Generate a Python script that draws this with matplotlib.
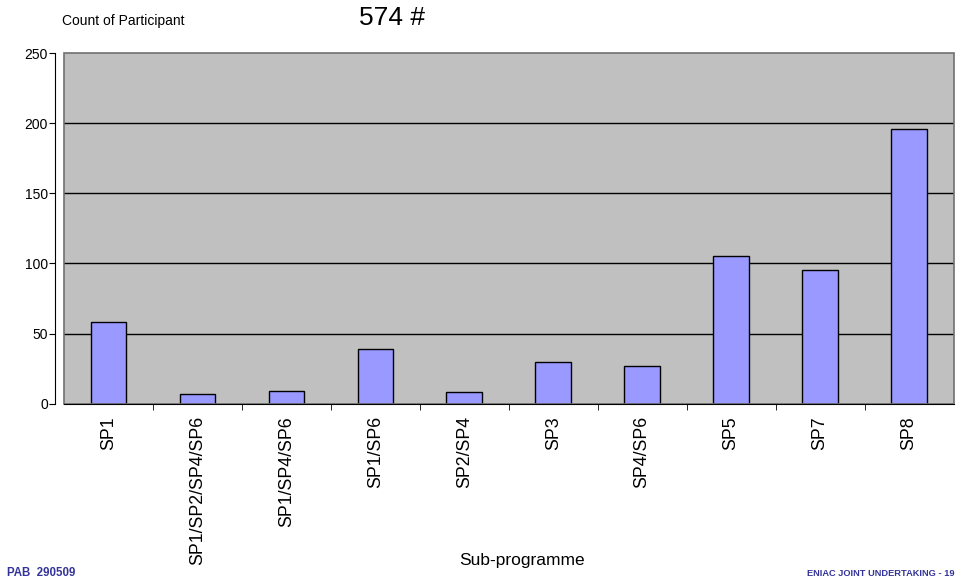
import matplotlib
matplotlib.use("Agg")
import matplotlib.pyplot as plt
from matplotlib.patches import Rectangle

# data
categories = ["SP1", "SP1/SP2/SP4/SP6", "SP1/SP4/SP6", "SP1/SP6", "SP2/SP4",
              "SP3", "SP4/SP6", "SP5", "SP7", "SP8"]
counts = [58, 7, 9, 39, 8, 30, 27, 105, 95, 196]
yticks = [0, 50, 100, 150, 200, 250]
total_label = "574 #"

plt.rcParams["font.family"] = ["Liberation Sans", "DejaVu Sans"]

fig = plt.figure(figsize=(9.62, 5.85), dpi=100)
ax = fig.add_axes([0.0665, 0.3099, 0.9247, 0.5995])

x = list(range(len(categories)))
ax.set_facecolor("#C0C0C0")
for y in yticks[1:-1]:
    ax.axhline(y, color="black", lw=1.0, zorder=1)
ax.bar(x, counts, width=0.4, color="#9999FF", edgecolor="black", lw=1.0, zorder=2)

ax.set_xlim(-0.5, len(categories) - 0.5)
ax.set_ylim(0, 250)
ax.set_yticks(yticks)
ax.set_yticklabels([str(v) for v in yticks], fontsize=12.5)

# labels at category centres, tick marks at boundaries
ax.set_xticks(x)
ax.set_xticklabels(categories, rotation=90, fontsize=12.8, va="top", ha="center")
ax.tick_params(axis="x", which="major", length=0, pad=9)
ax.set_xticks([i + 0.5 for i in x[:-1]], minor=True)
ax.tick_params(axis="x", which="minor", length=4, direction="out", color="black")
ax.tick_params(axis="y", length=4, direction="out", pad=1, color="black")

for side in ["top", "right"]:
    ax.spines[side].set_visible(False)
ax.spines["bottom"].set_color("black")
ax.spines["left"].set_position(("outward", 6.5))
ax.spines["left"].set_color("black")
ax.add_patch(Rectangle((0, 0), 1, 1, transform=ax.transAxes, fill=False,
                       edgecolor="#707070", lw=1.2, zorder=3, clip_on=False))
ax.spines["bottom"].set_zorder(4)

ax.set_xlabel("Sub-programme", fontsize=12.5, va="center")
ax.xaxis.set_label_coords(0.515, -0.447)

fig.text(62 / 962, 1 - 21 / 585, "Count of Participant", fontsize=10, va="center", ha="left")
fig.text(359 / 962, 1 - 18 / 585, total_label, fontsize=19, va="center", ha="left")
fig.text(7 / 962, 1 - 573 / 585, "PAB  290509", fontsize=8.3, fontweight="bold",
         color="#333399", va="center", ha="left")
fig.text(955 / 962, 1 - 573 / 585, "ENIAC JOINT UNDERTAKING - 19", fontsize=6.7,
         fontweight="bold", color="#333399", va="center", ha="right")

fig.savefig("out.png", dpi=100)
plt.close(fig)
